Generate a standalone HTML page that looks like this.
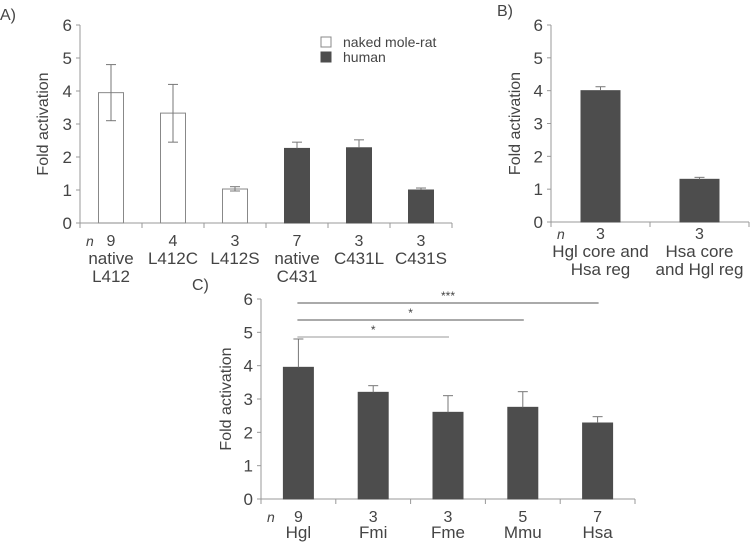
<!DOCTYPE html>
<html><head><meta charset="utf-8"><style>
body{margin:0;background:#fff;}
svg{display:block;font-family:"Liberation Sans",sans-serif;}
text{fill:#444;}
</style></head><body>
<svg id="fig" width="750" height="546" viewBox="0 0 750 546">
<g id="gA"></g>
<g id="gB"></g>
<g id="gC"></g>
</svg>
<script>
const catsA=[["native","L412"],["L412C"],["L412S"],["native","C431"],["C431L"],["C431S"]];
const nA=[9,4,3,7,3,3];
const valsA=[3.95,3.33,1.03,2.26,2.28,1.0];
const errHiA=[4.8,4.2,1.1,2.45,2.52,1.06];
const errLoA=[3.1,2.45,0.97,null,null,null];
const speciesA=["nmr","nmr","nmr","human","human","human"];

const catsB=[["Hgl core and","Hsa reg"],["Hsa core","and Hgl reg"]];
const nB=[3,3];
const valsB=[4.0,1.3];
const errHiB=[4.12,1.36];

const catsC=[["Hgl"],["Fmi"],["Fme"],["Mmu"],["Hsa"]];
const nC=[9,3,3,5,7];
const valsC=[3.95,3.2,2.6,2.75,2.28];
const errHiC=[4.8,3.4,3.1,3.22,2.47];
const sigPairs=[[0,4],[0,3],[0,2]];
const sigLabels=["***","*","*"];
const yTicks=[0,1,2,3,4,5,6];

const NS="http://www.w3.org/2000/svg";
function mk(p,tag,a,txt){const e=document.createElementNS(NS,tag);for(const k in a)e.setAttribute(k,a[k]);if(txt!==undefined)e.textContent=txt;p.appendChild(e);return e;}

function panel(g,o){
  const y=v=>o.y0-(v/6)*(o.y0-o.y6);
  const bw=(o.x1-o.x0)/o.cats.length;
  const x=i=>o.x0+bw*(i+0.5);
  const ax=mk(g,'line',{x1:o.x0,y1:o.y6,x2:o.x0,y2:o.y0,stroke:'#999','stroke-width':1});
  
  const xa=mk(g,'line',{x1:o.x0-4,y1:o.y0,x2:o.x1,y2:o.y0,stroke:'#999','stroke-width':1});
  
  yTicks.forEach(t=>{
    mk(g,'line',{x1:o.x0-4,y1:y(t),x2:o.x0,y2:y(t),stroke:'#999'});
    const tl=mk(g,'text',{x:o.x0-8,y:y(t)+6,'text-anchor':'end','font-size':17},t);
    
  });
  for(let i=0;i<=o.cats.length;i++)mk(g,'line',{x1:o.x0+bw*i,y1:o.y0,x2:o.x0+bw*i,y2:o.y0+5,stroke:'#999'});
  const yl=mk(g,'text',{x:0,y:0,transform:`translate(${o.ylx},${(o.y0+o.y6)/2}) rotate(-90)`,'text-anchor':'middle','font-size':16},'Fold activation');
  
  const pl=mk(g,'text',{x:o.lx,y:o.ly,'font-size':16},o.label);
  
  const ni=mk(g,'text',{x:o.x0+6,y:o.y0+o.nDy,'font-size':14,'font-style':'italic'},'n');
  
  o.vals.forEach((v,i)=>{
    const open=o.species&&o.species[i]==='nmr';
    const r=mk(g,'rect',{x:x(i)-o.barW/2,y:y(v),width:o.barW,height:o.y0-y(v),fill:open?'#fff':'#4d4d4d',stroke:open?'#888':'#4d4d4d','stroke-width':1});
    
    
    const lo=(o.errLo&&o.errLo[i]!=null)?o.errLo[i]:v;
    mk(g,'line',{x1:x(i),y1:y(o.errHi[i]),x2:x(i),y2:y(lo),stroke:'#777'});
    mk(g,'line',{x1:x(i)-5,y1:y(o.errHi[i]),x2:x(i)+5,y2:y(o.errHi[i]),stroke:'#777'});
    if(o.errLo&&o.errLo[i]!=null)mk(g,'line',{x1:x(i)-5,y1:y(lo),x2:x(i)+5,y2:y(lo),stroke:'#777'});
    const nt=mk(g,'text',{x:x(i),y:o.y0+o.nDy,'text-anchor':'middle','font-size':16},o.n[i]);
    
    o.cats[i].forEach((c,j)=>{
      const ct=mk(g,'text',{x:x(i),y:o.y0+o.cDy+j*18,'text-anchor':'middle','font-size':17},c);
      
    });
  });
  return {x,y};
}

panel(document.getElementById('gA'),{x0:80,x1:452,y0:223,y6:25,cats:catsA,n:nA,vals:valsA,errHi:errHiA,errLo:errLoA,species:speciesA,barW:25,ylx:48,lx:0,ly:20,label:'A)',nDy:23,cDy:41});
const gA=document.getElementById('gA');
[["naked mole-rat","#fff","#888",37],["human","#4d4d4d","#4d4d4d",52]].forEach(L=>{
  const r=mk(gA,'rect',{x:321,y:L[3],width:10,height:10,fill:L[1],stroke:L[2]});
  
  const t=mk(gA,'text',{x:343,y:L[3]+10,'font-size':14},L[0]);
  
});

panel(document.getElementById('gB'),{x0:551,x1:749,y0:222,y6:25,cats:catsB,n:nB,vals:valsB,errHi:errHiB,barW:39,ylx:520,lx:497,ly:16,label:'B)',nDy:17,cDy:35});

const gC=document.getElementById('gC');
const pc=panel(gC,{x0:261,x1:635,y0:499,y6:299,cats:catsC,n:nC,vals:valsC,errHi:errHiC,barW:30,ylx:231,lx:192,ly:290,label:'C)',nDy:23,cDy:39});
const sigY=[303,320,337];
sigPairs.forEach((p,k)=>{
  const l=mk(gC,'line',{x1:pc.x(p[0])-1,y1:sigY[k],x2:pc.x(p[1])+1,y2:sigY[k],stroke:k===2?'#999':'#555'});
  
  const t=mk(gC,'text',{x:(pc.x(p[0])+pc.x(p[1]))/2,y:sigY[k]-3,'text-anchor':'middle','font-size':12},sigLabels[k]);
  
});
</script>
</body></html>
